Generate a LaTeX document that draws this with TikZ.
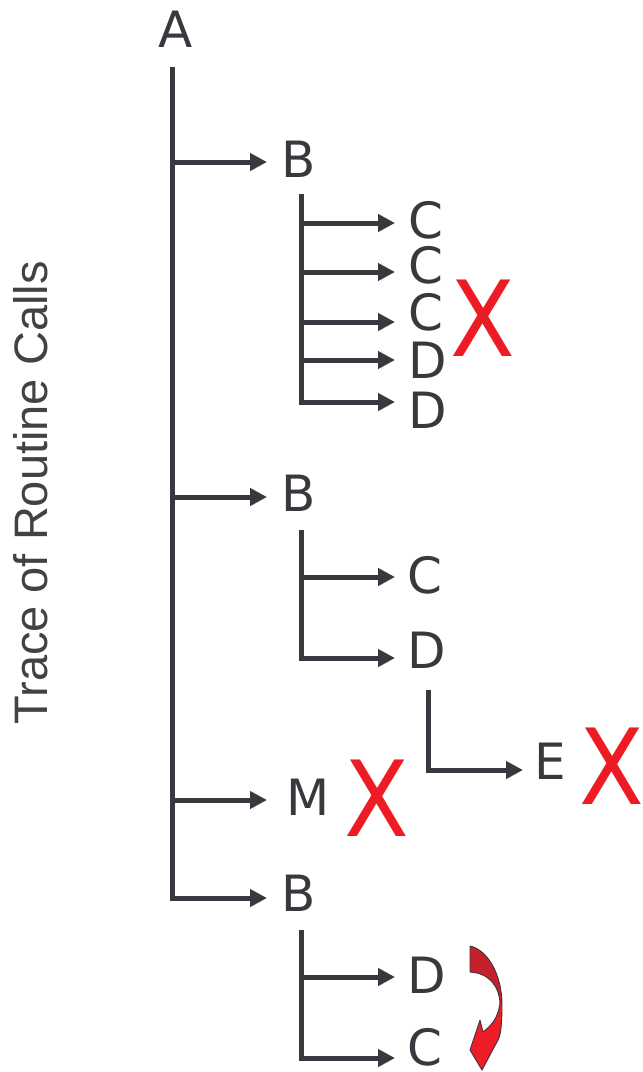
\documentclass[tikz,border=0pt]{standalone}
\usepackage{fontspec}
\setmainfont{DejaVu Sans}
\newfontfamily\sidefont{Liberation Sans}
\usetikzlibrary{arrows.meta}
\definecolor{ink}{RGB}{56,56,62}
\definecolor{sidegray}{RGB}{66,66,70}
\definecolor{cross}{RGB}{237,28,36}
\definecolor{swirltop}{RGB}{198,32,44}
\definecolor{swirlbot}{RGB}{238,28,36}
\begin{document}
\begin{tikzpicture}[x=1pt,y=-1pt,
  lbl/.style={inner sep=0pt, text=ink, font=\fontsize{50}{60}\selectfont},
  bad/.style={inner sep=0pt, text=cross, font=\fontsize{105}{120}\selectfont, xscale=0.9},
  wire/.style={draw=ink, line width=5pt, line join=miter},
  call/.style={wire, -{Triangle[length=17pt,width=17pt]}},
]
\useasboundingbox (0,0) rectangle (643,1072);

% side caption
\node[inner sep=0pt, rotate=90, text=sidegray, font=\sidefont\fontsize{47}{56}\selectfont]
  (caption) at (31,493) {Trace of Routine Calls};

% routine names
\node[lbl] (A)  at (176,29)  {A};
\node[lbl] (B1) at (299,159) {B};
\node[lbl] (C1) at (426,220) {C};
\node[lbl] (C2) at (426,265) {C};
\node[lbl] (C3) at (426,312) {C};
\node[lbl] (D1) at (428,360) {D};
\node[lbl] (D2) at (428,410) {D};
\node[lbl] (B2) at (299,493) {B};
\node[lbl] (C4) at (425,575) {C};
\node[lbl] (D3) at (427,650) {D};
\node[lbl] (E)  at (550,761) {E};
\node[lbl] (M)  at (308,797) {M};
\node[lbl] (B3) at (299,893) {B};
\node[lbl] (D4) at (427,975) {D};
\node[lbl] (C5) at (425,1047) {C};

% failure marks
\node[bad] (x1) at (483,318) {X};
\node[bad] (x2) at (612,766) {X};
\node[bad] (x3) at (377,798) {X};

% trunk of A
\coordinate (t0) at (172,67);
\coordinate (tB1) at (267,162);
\coordinate (tB2) at (267,497);
\coordinate (tM)  at (267,800);
\coordinate (tB3) at (267,898);
\draw[call] (t0) |- (tB3);
\draw[call] (t0 |- tB1) -- (tB1);
\draw[call] (t0 |- tB2) -- (tB2);
\draw[call] (t0 |- tM)  -- (tM);

% first B
\coordinate (s1) at (301,194);
\coordinate (tC1) at (395,223);
\coordinate (tC2) at (395,272);
\coordinate (tC3) at (395,322);
\coordinate (tD1) at (395,360);
\coordinate (tD2) at (395,402);
\draw[call] (s1) |- (tD2);
\draw[call] (s1 |- tC1) -- (tC1);
\draw[call] (s1 |- tC2) -- (tC2);
\draw[call] (s1 |- tC3) -- (tC3);
\draw[call] (s1 |- tD1) -- (tD1);

% second B
\coordinate (s2) at (301,530);
\coordinate (tC4) at (395,577);
\coordinate (tD3) at (395,658);
\draw[call] (s2) |- (tD3);
\draw[call] (s2 |- tC4) -- (tC4);

% D calls E
\coordinate (s3) at (428,690);
\coordinate (tE) at (523,770);
\draw[call] (s3) |- (tE);

% third B
\coordinate (s4) at (301,930);
\coordinate (tD4) at (395,977);
\coordinate (tC5) at (395,1058);
\draw[call] (s4) |- (tC5);
\draw[call] (s4 |- tD4) -- (tD4);

% reorder arrow from D down to C: a twisted ribbon, dark above, bright below
\def\swirlpath{(470,946) .. controls (488,950) and (502,975) .. (502,1005)
  .. controls (502,1022) and (501,1035) .. (498,1040)
  -- (482,1070) -- (470,1050) -- (480,1020) -- (483,1032)
  .. controls (492,1025) and (498,1018) .. (500,1003)
  .. controls (499,985) and (488,973) .. (470,972) -- cycle}
\fill[swirlbot] \swirlpath;
\begin{scope}
  \clip (460,940) rectangle (510,1003);
  \fill[swirltop] \swirlpath;
\end{scope}
\draw[ink, line width=0.9pt, line join=round] \swirlpath;
\end{tikzpicture}
\end{document}
